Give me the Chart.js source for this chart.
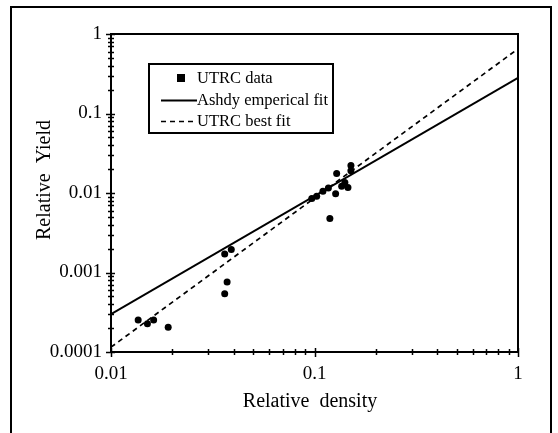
<!DOCTYPE html>
<html>
<head>
<meta charset="utf-8">
<script src="https://cdn.jsdelivr.net/npm/chart.js@4.4.1/dist/chart.umd.min.js"></script>
<style>
html,body{margin:0;padding:0;background:#fff;}
#wrap{width:558px;height:433px;position:relative;}
</style>
</head>
<body>
<div id="wrap"><canvas id="c" width="558" height="433"></canvas></div>
<script>
// ---- data ----
const densities = [0.0136, 0.0151, 0.0162, 0.0191, 0.0362, 0.0390, 0.0372, 0.0362, 0.119,
                   0.097, 0.1025, 0.110, 0.117, 0.127, 0.1285, 0.136, 0.141, 0.146, 0.151, 0.151];
const yields    = [0.000253, 0.000226, 0.000253, 0.000205, 0.00171, 0.00194, 0.000757, 0.00054, 0.00477,
                   0.0085, 0.0091, 0.0105, 0.0116, 0.00977, 0.0176, 0.0122, 0.0136, 0.0117, 0.0222, 0.0190];
const fitDensities = [0.01, 1];
const ashbyFitYields = [0.0003, 0.28];
const utrcFitYields  = [0.000115, 0.65];
const seriesNames = ['UTRC data', 'Ashdy emperical fit', 'UTRC best fit'];
const xMajorTicks = [0.01, 0.1, 1];
const xTickLabels = ['0.01', '0.1', '1'];
const yMajorTicks = [0.0001, 0.001, 0.01, 0.1, 1];
const yTickLabels = ['0.0001', '0.001', '0.01', '0.1', '1'];
const xAxisTitle = 'Relative  density';
const yAxisTitle = 'Relative  Yield';

const FONT = "'Liberation Serif', 'Times New Roman', Times, serif";

function withMinors(majors) {
  const out = [];
  for (let i = 0; i < majors.length; i++) {
    out.push(majors[i]);
    if (i < majors.length - 1) {
      for (let m = 2; m <= 9; m++) out.push(+(majors[i] * m).toPrecision(4));
    }
  }
  return out;
}
function majorIndex(majors, v) {
  for (let i = 0; i < majors.length; i++) {
    if (Math.abs(Math.log10(v) - Math.log10(majors[i])) < 1e-6) return i;
  }
  return -1;
}
const xAllTicks = withMinors(xMajorTicks);
const yAllTicks = withMinors(yMajorTicks);

const decorPlugin = {
  id: 'decor',
  afterDraw(chart) {
    const ctx = chart.ctx;
    const ca = chart.chartArea;
    ctx.save();
    ctx.strokeStyle = '#000';
    ctx.fillStyle = '#000';
    // outer figure frame
    ctx.lineWidth = 2;
    ctx.strokeRect(11, 7, 540, 450);
    // plot box
    ctx.strokeRect(ca.left, ca.top, ca.right - ca.left, ca.bottom - ca.top);
    // tick marks crossing the axes
    ctx.lineWidth = 1.5;
    const ys = chart.scales.y, xs = chart.scales.x;
    ys.ticks.forEach(t => {
      const p = Math.round(ys.getPixelForValue(t.value)) + 0.5;
      const maj = majorIndex(yMajorTicks, t.value) >= 0;
      ctx.beginPath();
      ctx.moveTo(ca.left - (maj ? 5 : 3), p);
      ctx.lineTo(ca.left + (maj ? 4 : 3), p);
      ctx.stroke();
    });
    xs.ticks.forEach(t => {
      const p = Math.round(xs.getPixelForValue(t.value)) + 0.5;
      const maj = majorIndex(xMajorTicks, t.value) >= 0;
      ctx.beginPath();
      ctx.moveTo(p, ca.bottom - (maj ? 4 : 3));
      ctx.lineTo(p, ca.bottom + (maj ? 5 : 3));
      ctx.stroke();
    });
    // axis titles
    ctx.font = '20px ' + FONT;
    ctx.textAlign = 'center';
    ctx.textBaseline = 'middle';
    ctx.fillText(xAxisTitle, 310, 402);
    ctx.save();
    ctx.translate(45, 180);
    ctx.rotate(-Math.PI / 2);
    ctx.fillText(yAxisTitle, 0, 0);
    ctx.restore();
    // legend box
    const lx = 149, ly = 64, lw = 184, lh = 69;
    ctx.fillStyle = '#fff';
    ctx.fillRect(lx, ly, lw, lh);
    ctx.lineWidth = 2;
    ctx.strokeRect(lx, ly, lw, lh);
    ctx.fillStyle = '#000';
    ctx.font = '16.5px ' + FONT;
    ctx.textAlign = 'left';
    ctx.textBaseline = 'middle';
    const rows = [78, 100, 121];
    chart.data.datasets.forEach((ds, i) => {
      const yRow = rows[i];
      if (i === 0) {
        ctx.fillRect(177, yRow - 4, 8, 8);
      } else {
        ctx.lineWidth = ds.borderWidth;
        ctx.setLineDash(ds.borderDash || []);
        ctx.beginPath();
        ctx.moveTo(161, yRow + 0.5);
        ctx.lineTo(197, yRow + 0.5);
        ctx.stroke();
        ctx.setLineDash([]);
      }
      ctx.fillText(ds.label, 197, yRow + 1);
    });
    ctx.restore();
  }
};

new Chart(document.getElementById('c'), {
  type: 'scatter',
  data: {
    datasets: [
      {
        label: seriesNames[0],
        data: densities.map((x, i) => ({ x: x, y: yields[i] })),
        backgroundColor: '#000', borderColor: '#000',
        pointRadius: 3.5, pointHoverRadius: 3.5, pointBorderWidth: 0,
        showLine: false
      },
      {
        label: seriesNames[1],
        data: fitDensities.map((x, i) => ({ x: x, y: ashbyFitYields[i] })),
        showLine: true, borderColor: '#000', borderWidth: 2,
        pointRadius: 0, pointHoverRadius: 0, fill: false
      },
      {
        label: seriesNames[2],
        data: fitDensities.map((x, i) => ({ x: x, y: utrcFitYields[i] })),
        showLine: true, borderColor: '#000', borderWidth: 1.7, borderDash: [5, 4],
        pointRadius: 0, pointHoverRadius: 0, fill: false
      }
    ]
  },
  options: {
    responsive: false,
    animation: false,
    devicePixelRatio: 1,
    layout: { padding: { top: 34, right: 40, left: 0, bottom: 0 } },
    plugins: { legend: { display: false }, tooltip: { enabled: false } },
    scales: {
      x: {
        type: 'logarithmic', min: 0.01, max: 1,
        afterBuildTicks: s => { s.ticks = xAllTicks.map(v => ({ value: v, major: majorIndex(xMajorTicks, v) >= 0 })); },
        afterFit: s => { s.height = 81; },
        grid: { display: false, drawTicks: false, tickLength: 0 },
        border: { display: false },
        ticks: {
          autoSkip: false, maxRotation: 0, minRotation: 0, padding: 11, color: '#000',
          font: { family: FONT, size: 19 },
          callback: v => { const i = majorIndex(xMajorTicks, v); return i >= 0 ? xTickLabels[i] : ''; }
        }
      },
      y: {
        type: 'logarithmic', min: 0.0001, max: 1,
        afterBuildTicks: s => { s.ticks = yAllTicks.map(v => ({ value: v, major: majorIndex(yMajorTicks, v) >= 0 })); },
        afterFit: s => { s.width = 111; },
        grid: { display: false, drawTicks: false, tickLength: 0 },
        border: { display: false },
        ticks: {
          autoSkip: false, padding: 9, color: '#000',
          font: { family: FONT, size: 19 },
          callback: v => { const i = majorIndex(yMajorTicks, v); return i >= 0 ? yTickLabels[i] : ''; }
        }
      }
    }
  },
  plugins: [decorPlugin]
});
</script>
</body>
</html>
